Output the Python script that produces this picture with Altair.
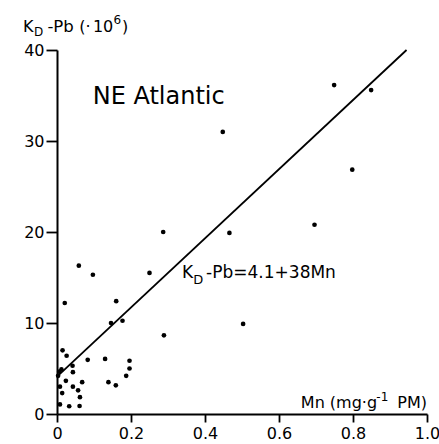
import altair as alt
import pandas as pd

# Mn content of particulate matter (mg/g) and Pb distribution coefficient (x 10^6)
mn = [0.749, 0.849, 0.448, 0.798, 0.696, 0.466, 0.287, 0.059, 0.097, 0.250,
      0.021, 0.160, 0.146, 0.177, 0.289, 0.503,
      0.015, 0.026, 0.042, 0.083, 0.130, 0.196, 0.196, 0.187, 0.139, 0.159,
      0.043, 0.006, 0.003, 0.012, 0.024, 0.068, 0.008, 0.043, 0.057, 0.014,
      0.062, 0.008, 0.033, 0.061]
kd = [36.15, 35.6, 31.0, 26.85, 20.8, 19.9, 20.0, 16.3, 15.3, 15.5,
      12.2, 12.4, 10.0, 10.25, 8.65, 9.9,
      7.0, 6.4, 5.3, 5.95, 6.05, 5.85, 5.0, 4.2, 3.5, 3.15,
      4.6, 4.65, 4.2, 4.9, 3.65, 3.5, 3.0, 3.0, 2.6, 2.3,
      1.85, 1.05, 0.85, 0.88]

# regression K_D-Pb = 4.1 + 38 Mn, drawn up to the top of the axis
intercept = 4.1
slope = 38.0
y_top = 40.0

x_ticks = [0, 0.2, 0.4, 0.6, 0.8, 1.0]
y_ticks = [0, 10, 20, 30, 40]

# left-aligned annotation pieces (sub/superscripts are separate pieces)
ann_text = ["NE Atlantic",
            "K", "D", "-Pb=4.1+38Mn",
            "K", "D", "-Pb", "(·", "10", "6", ")",
            "Mn (mg·g", "-1"]
ann_x = [0.0965,
         0.338, 0.368, 0.403,
         -0.092, -0.062, -0.026, 0.060, 0.097, 0.153, 0.176,
         0.659, 0.863]
ann_y = [34.07,
         14.95, 14.29, 14.95,
         41.98, 41.54, 41.98, 41.98, 41.98, 42.9, 41.98,
         0.66, 1.45]
ann_size = [24,
            17, 13, 17,
            16, 12, 16.5, 16, 16, 12, 16,
            16, 12]

# right-aligned closing piece of the x-axis title
tail_text = ["PM)"]
tail_x = [1.0]
tail_y = [0.66]

FONT = "DejaVu Sans"

points = pd.DataFrame({"mn": mn, "kd": kd})
fit = pd.DataFrame({"mn": [0.0, (y_top - intercept) / slope],
                    "kd": [intercept, y_top]})
ann = pd.DataFrame({"text": ann_text, "x": ann_x, "y": ann_y, "size": ann_size})
tail = pd.DataFrame({"text": tail_text, "x": tail_x, "y": tail_y})

x_scale = alt.Scale(domain=[0, 1], nice=False, zero=False)
y_scale = alt.Scale(domain=[0, 40], nice=False)

common_axis = dict(
    title=None, grid=False, domainColor="black", domainWidth=2,
    tickColor="black", tickWidth=1.8, labelColor="black",
    labelFont=FONT, labelFontSize=16,
)

x_axis = alt.Axis(values=x_ticks, tickSize=8, labelPadding=3, labelFlush=False,
                  labelExpr="datum.value == 0 ? '0' : format(datum.value, '.1f')",
                  **common_axis)
y_axis = alt.Axis(values=y_ticks, tickSize=11, labelPadding=2, **common_axis)

dots = alt.Chart(points).mark_circle(size=22, color="black", opacity=1).encode(
    x=alt.X("mn:Q", scale=x_scale, axis=x_axis),
    y=alt.Y("kd:Q", scale=y_scale, axis=y_axis),
)

line = alt.Chart(fit).mark_line(color="black", strokeWidth=1.8).encode(
    x=alt.X("mn:Q", scale=x_scale),
    y=alt.Y("kd:Q", scale=y_scale),
)

labels = alt.Chart(ann).mark_text(align="left", baseline="alphabetic",
                                  font=FONT, color="black").encode(
    x=alt.X("x:Q", scale=x_scale),
    y=alt.Y("y:Q", scale=y_scale),
    text="text:N",
    size=alt.Size("size:Q", scale=None, legend=None),
)

tail_label = alt.Chart(tail).mark_text(align="right", baseline="alphabetic",
                                       font=FONT, fontSize=16, color="black").encode(
    x=alt.X("x:Q", scale=x_scale),
    y=alt.Y("y:Q", scale=y_scale),
    text="text:N",
)

chart = alt.layer(line, dots, labels, tail_label).properties(
    width=370,
    height=364,
    autosize=alt.AutoSizeParams(type="none"),
    padding={"left": 57, "top": 50, "right": 12, "bottom": 30},
    background="white",
).configure_view(stroke=None)

chart.save("out.html", embed_options={"renderer": "svg", "actions": False})
